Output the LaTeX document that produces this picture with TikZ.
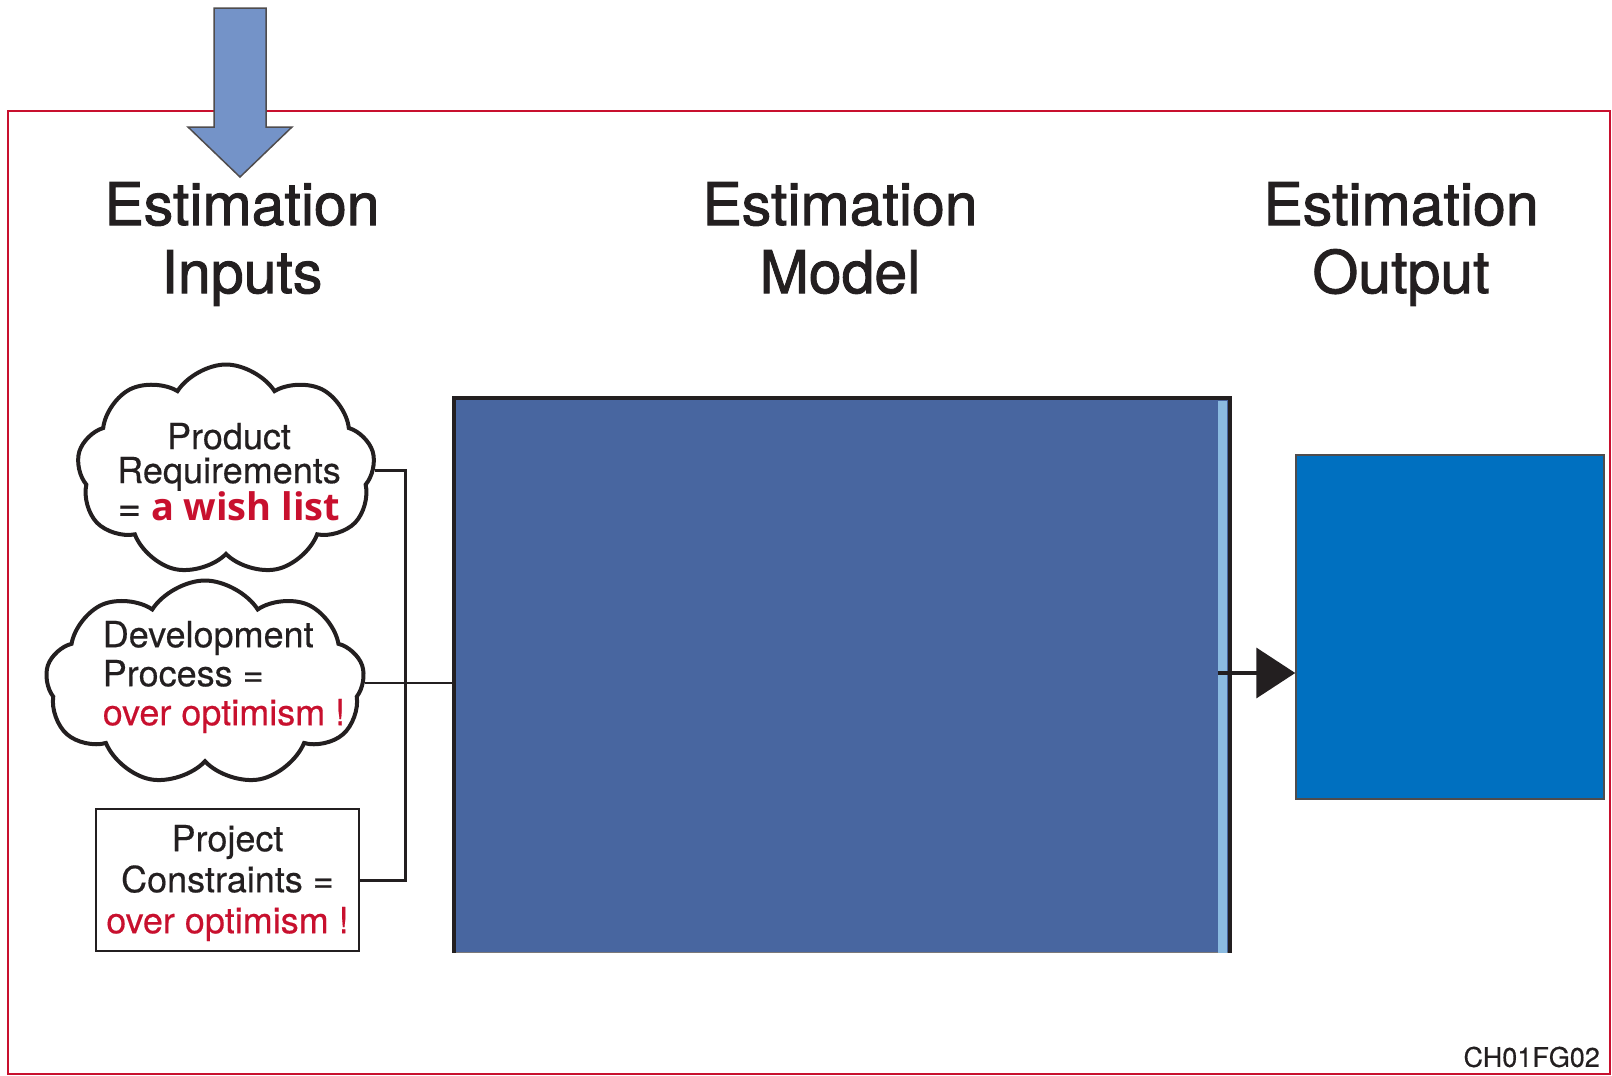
\documentclass[tikz,border=0pt]{standalone}
\usepackage{fontspec}
\setmainfont[FakeBold=0.4]{TeX Gyre Heros}
\newfontfamily\headfont[FakeBold=1.5]{TeX Gyre Heros}
\newfontfamily\wishfont{Open Sans}
\usetikzlibrary{shapes.symbols, arrows.meta, positioning, calc}
\definecolor{frame}{HTML}{C8102E}
\definecolor{ink}{HTML}{231F20}
\definecolor{modelblue}{HTML}{4866A0}
\definecolor{stripblue}{HTML}{8BBBE0}
\definecolor{outblue}{HTML}{0070C0}
\definecolor{feedblue}{HTML}{7493C8}

\begin{document}
\begin{tikzpicture}[x=1pt, y=-1pt,
    every node/.style={text=ink, inner sep=0pt},
    head/.style={font=\headfont\fontsize{59}{68}\selectfont, align=center},
    txt/.style={font=\fontsize{36}{39}\selectfont},
    bubble/.style={cloud, cloud puffs=9, cloud puff arc=115, cloud ignores aspect,
                   draw=ink, line width=4pt, fill=white},
    blk/.style={rectangle, draw=ink, line width=2.5pt, fill=white},
    link/.style={draw=ink, line width=3pt},
    arr/.style={-{Triangle[length=39pt, width=50pt]}, draw=ink, line width=4pt}
]
    \useasboundingbox (0,0) rectangle (1612,1076);
    % outer frame
    \draw[frame, line width=2.5pt] (8,111) rectangle (1610,1074);
    % feed arrow on top of frame
    \draw[fill=feedblue, draw=ink!80, line width=1.5pt]
        (214,8) -- (266,8) -- (266,127) -- (292,127) -- (240,177)
        -- (188,127) -- (214,127) -- cycle;

    % column titles
    \node[head] (hin)  at (242,244)  {Estimation\\Inputs};
    \node[head] (hmod) at (840,244)  {Estimation\\Model\vphantom{p}};
    \node[head] (hout) at (1401,244) {Estimation\\Output};

    % inputs
    \node[bubble, minimum width=298pt, minimum height=211pt] (req) at (226,470) {};
    \node[txt, align=center, font=\fontsize{36}{34}\selectfont] at (229,472)
        {Product\\Requirements\\{\fontsize{40}{34}\selectfont=} {\color{frame}\wishfont\bfseries\fontsize{38}{34}\selectfont a wish list}};
    \node[bubble, minimum width=319pt, minimum height=205pt] (dev) at (205,683) {};
    \node[txt, align=left] at (224,677)
        {Development\\Process =\\{\color{frame}over optimism !}};
    \node[blk, minimum width=263pt, minimum height=142pt] (con) at (227.5,880) {};
    \node[txt, align=center, font=\fontsize{36}{41}\selectfont] at (227.5,883)
        {Project\\Constraints =\\{\color{frame}over optimism !}};

    % model and output
    \node[rectangle, fill=modelblue, draw=ink!60, line width=1pt,
          minimum width=775pt, minimum height=554pt] (model) at (841.5,675) {};
    \fill[stripblue] ($(model.north east)+(-12,3)$) rectangle ($(model.south east)+(-3,0)$);
    \draw[ink, line width=4pt] (model.south west) -- (model.north west)
        -- (model.north east) -- (model.south east);
    \node[rectangle, fill=outblue, draw=ink!80, line width=1.5pt,
          minimum width=308pt, minimum height=344pt] (out) at (1450,627) {};

    % connectors
    \coordinate (bus) at (405,0);
    \draw[link] (req.east) -- (req.east -| bus) -- (con.east -| bus) -- (con.east);
    \draw[draw=ink, line width=2pt] (dev.east) -- (dev.east -| model.west);
    \draw[arr] ($(model.east)+(-12,-2)$) -- ($(model.east -| out.west)+(0,-2)$);

    \node[anchor=east, font=\fontsize{27}{30}\selectfont] (tag) at (1600,1057) {CH01FG02};
\end{tikzpicture}
\end{document}
